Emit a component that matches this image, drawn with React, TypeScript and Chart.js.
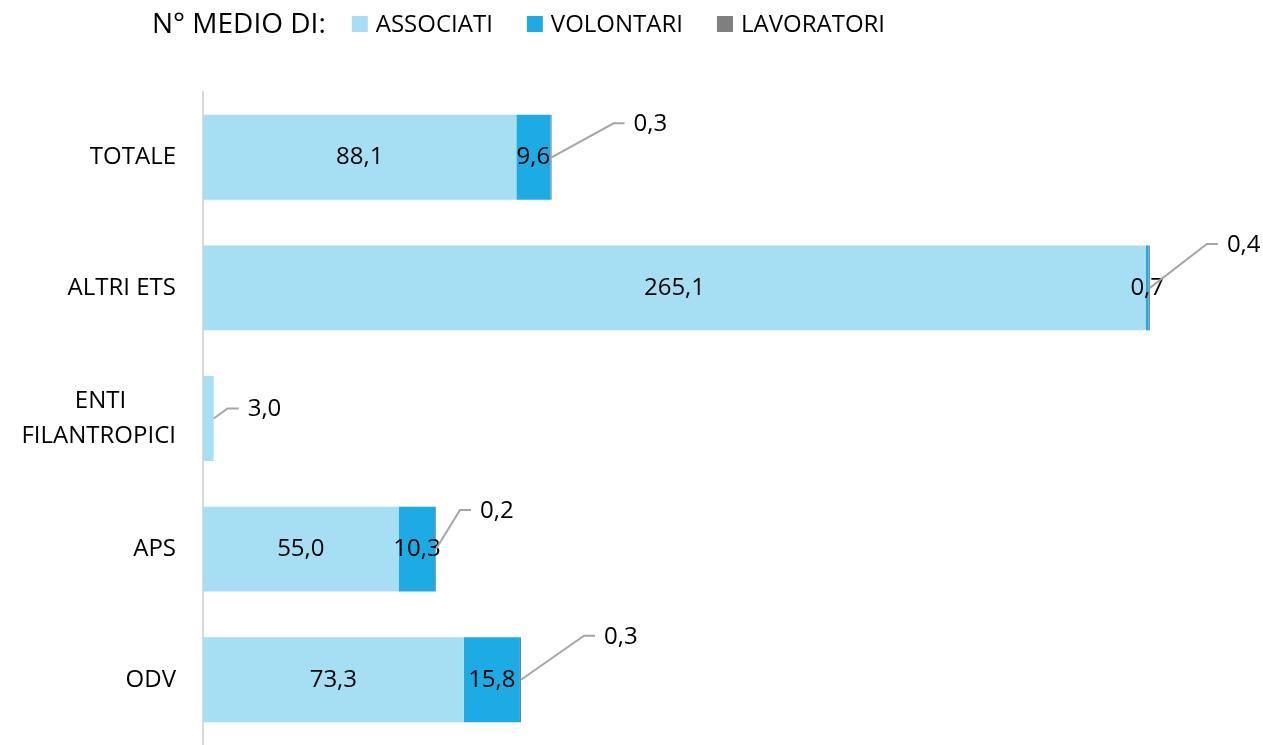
import { useEffect, useRef } from "react";
import { Chart, registerables } from "chart.js";

Chart.register(...registerables);

// ---- data ----
const categories = ["TOTALE", "ALTRI ETS", "ENTI FILANTROPICI", "APS", "ODV"];
const tickLabelLines = [["TOTALE"], ["ALTRI ETS"], ["ENTI", "FILANTROPICI"], ["APS"], ["ODV"]];
const seriesNames = ["ASSOCIATI", "VOLONTARI", "LAVORATORI"];
const associati = [88.1, 265.1, 3.0, 55.0, 73.3];
const volontari = [9.6, 0.7, null, 10.3, 15.8];
const lavoratori = [0.3, 0.4, null, 0.2, 0.3];
const legendTitle = "N° MEDIO DI:";

// which series' label of each category sits outside with a leader line
const calloutSeries = [2, 2, 0, 2, 2];
const calloutDx = [62, 57, 14, 24, 63];
const calloutDy = [-34, -44, -10, -39, -44];

const colors = ["#A6DEF4", "#1DABE3", "#7F7F7F"];
const FONT = '"Open Sans", "Noto Sans", sans-serif';

const fmt = (v: number) => v.toFixed(1).replace(".", ",");

const measureCtx = (() => {
  const c = document.createElement("canvas");
  return c.getContext("2d") as CanvasRenderingContext2D;
})();

function centeredLines(lines: string[]): string | string[] {
  if (lines.length === 1) return lines[0];
  measureCtx.font = `24px ${FONT}`;
  const widths = lines.map((l) => measureCtx.measureText(l).width);
  const maxW = Math.max(...widths);
  const spaceW = measureCtx.measureText(" ").width || 6;
  return lines.map((l, i) => {
    const n = Math.round((maxW - widths[i]) / 2 / spaceW);
    return l + " ".repeat(n);
  });
}

const legendPlugin = {
  id: "customLegend",
  afterDraw(chart: any) {
    const ctx = chart.ctx as CanvasRenderingContext2D;
    ctx.save();
    ctx.textBaseline = "middle";
    ctx.textAlign = "left";
    ctx.fillStyle = "#000";
    ctx.font = `28px ${FONT}`;
    const cy = 24;
    let x = 152;
    ctx.fillText(legendTitle, x, cy + 1);
    x += ctx.measureText(legendTitle).width + 26;
    ctx.font = `24px ${FONT}`;
    chart.data.datasets.forEach((ds: any) => {
      ctx.fillStyle = ds.backgroundColor;
      ctx.fillRect(x, cy - 8, 16, 16);
      x += 16 + 8;
      ctx.fillStyle = "#000";
      ctx.fillText(ds.label, x, cy + 1);
      x += ctx.measureText(ds.label).width + 34;
    });
    ctx.restore();
  },
};

const labelPlugin = {
  id: "barLabels",
  afterDatasetsDraw(chart: any) {
    const ctx = chart.ctx as CanvasRenderingContext2D;
    ctx.save();
    ctx.font = `24px ${FONT}`;
    ctx.textBaseline = "middle";
    chart.data.datasets.forEach((ds: any, di: number) => {
      const meta = chart.getDatasetMeta(di);
      meta.data.forEach((el: any, i: number) => {
        const v = ds.data[i];
        if (v === null || v === undefined) return;
        const { x, y, base } = el.getProps(["x", "y", "base"], true);
        if (calloutSeries[i] === di) {
          const mx = x + calloutDx[i];
          const my = y + calloutDy[i];
          ctx.strokeStyle = "#A6A6A6";
          ctx.lineWidth = 2;
          ctx.beginPath();
          ctx.moveTo(x, y);
          ctx.lineTo(mx, my);
          ctx.lineTo(mx + 11, my);
          ctx.stroke();
          ctx.fillStyle = "#000";
          ctx.textAlign = "left";
          ctx.fillText(fmt(v), mx + 20, my + 1);
        } else {
          ctx.fillStyle = "#000";
          ctx.textAlign = "center";
          ctx.fillText(fmt(v), (x + base) / 2, y);
        }
      });
    });
    ctx.restore();
  },
};

export default function App() {
  const ref = useRef<HTMLCanvasElement | null>(null);

  useEffect(() => {
    if (!ref.current) return;
    const chart = new Chart(ref.current, {
      type: "bar",
      data: {
        labels: categories,
        datasets: [
          { label: seriesNames[0], data: associati, backgroundColor: colors[0] },
          { label: seriesNames[1], data: volontari, backgroundColor: colors[1] },
          { label: seriesNames[2], data: lavoratori, backgroundColor: colors[2] },
        ] as any,
      },
      options: {
        indexAxis: "y",
        animation: false,
        responsive: true,
        maintainAspectRatio: false,
        datasets: { bar: { barPercentage: 0.65, categoryPercentage: 1, borderWidth: 0 } } as any,
        layout: { padding: { top: 92, left: 0, right: 0, bottom: 0 } },
        plugins: {
          legend: { display: false },
          tooltip: { enabled: false },
        },
        scales: {
          x: {
            stacked: true,
            display: false,
            min: 0,
            max: 298,
          },
          y: {
            stacked: true,
            grid: { display: false, drawTicks: false },
            border: { display: true, color: "#D9D9D9", width: 2 },
            afterFit: (scale: any) => {
              scale.width = 203;
              scale.paddingTop = 0;
              scale.paddingBottom = 0;
            },
            ticks: {
              padding: 27,
              color: "#000",
              font: { family: FONT, size: 24, lineHeight: 1.46 },
              callback: (_v: any, index: number) => centeredLines(tickLabelLines[index]),
            },
          },
        },
      },
      plugins: [legendPlugin, labelPlugin],
    });
    return () => chart.destroy();
  }, []);

  return (
    <div style={{ position: "absolute", left: 0, top: 0, width: 1263, height: 745 }}>
      <canvas ref={ref} />
    </div>
  );
}
